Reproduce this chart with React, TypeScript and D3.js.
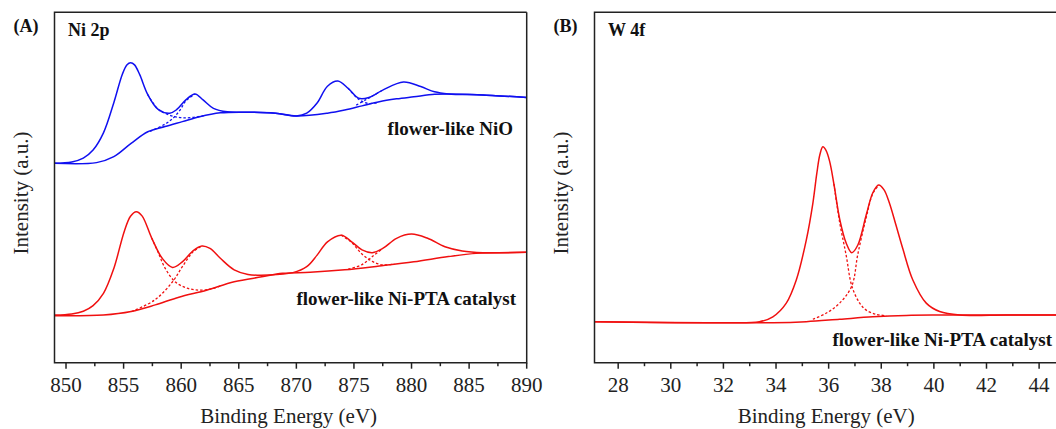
import { useEffect, useRef } from "react";
import * as d3 from "d3";

type Pt = [number, number];

// Panel A: Ni 2p, binding energy (eV) vs intensity (a.u.)
const niTicks = [850, 855, 860, 865, 870, 875, 880, 885, 890];
const niMinor = [852.5, 857.5, 862.5, 867.5, 872.5, 877.5, 882.5, 887.5];

const nioEnvelope: Pt[] = [
  [849, 56.9], [850.5, 57.3], [851.5, 58.4], [852.35, 60.7], [853.25, 65.6],
  [854.15, 74.2], [854.9, 82.4], [855.3, 85.0], [855.6, 85.6], [855.95, 85.0],
  [856.4, 82.2], [857.1, 76.5], [858.0, 72.3], [859.0, 71.2], [859.6, 72.2],
  [860.4, 75.0], [861.2, 76.7], [861.9, 75.0], [862.8, 72.6], [864.0, 71.6],
  [865.8, 71.5], [868.2, 71.2], [870.0, 70.4], [870.9, 71.2], [871.8, 74.1],
  [872.7, 78.9], [873.6, 80.4], [874.5, 78.3], [875.4, 75.5], [876.3, 75.7],
  [877.5, 77.8], [879.3, 80.1], [880.8, 78.8], [882.0, 77.3], [883.2, 76.7],
  [886.2, 76.4], [890, 75.7],
];
const nioBackground: Pt[] = [
  [849, 56.9], [852.65, 57.1], [854.15, 58.8], [855.65, 62.6], [857.1, 65.9],
  [858.6, 67.4], [860.1, 68.8], [861.6, 70.2], [863.4, 71.3], [865.2, 71.5],
  [868.2, 71.2], [870.0, 70.4], [872.7, 71.2], [874.2, 72.1], [875.7, 73.3],
  [877.2, 74.5], [878.7, 75.3], [880.2, 75.9], [882.0, 76.6], [883.2, 76.7],
  [886.2, 76.4], [890, 75.7],
];
const nioPeak1: Pt[] = [
  [857.1, 76.5], [858.0, 72.3], [858.6, 71.2], [859.3, 70.3], [860.1, 69.9],
  [861.0, 70.0], [862.0, 70.5],
];
const nioPeak2: Pt[] = [
  [857.3, 66.0], [858.6, 68.1], [859.3, 69.8], [859.9, 72.1], [860.4, 74.7],
  [861.2, 76.7],
];
const nioPeak3: Pt[] = [
  [874.5, 78.3], [875.4, 75.2], [876.2, 74.0], [877.0, 74.2],
];
const nioPeak4: Pt[] = [
  [875.2, 73.5], [876.0, 75.0], [876.6, 76.1], [877.5, 77.8],
];

const ptaEnvelope: Pt[] = [
  [849, 13.6], [850.5, 13.9], [851.5, 14.7], [852.35, 16.3], [853.25, 19.8],
  [854.15, 26.9], [855.05, 37.4], [855.6, 41.8], [856.1, 43.1], [856.6, 41.9],
  [857.45, 35.5], [858.35, 29.8], [859.25, 27.2], [860.1, 28.8], [861.05, 32.0],
  [861.8, 33.3], [862.5, 32.6], [863.4, 29.8], [864.6, 26.5], [865.8, 25.2],
  [867.6, 25.0], [869.7, 25.7], [870.9, 27.4], [871.8, 30.7], [872.7, 34.5],
  [873.9, 36.4], [874.8, 34.5], [875.7, 32.2], [876.6, 31.4], [877.5, 32.6],
  [878.7, 35.5], [880.0, 36.7], [881.4, 35.5], [882.9, 33.1], [884.4, 31.9],
  [886.2, 31.4], [890, 31.5],
];
const ptaBackground: Pt[] = [
  [849, 13.4], [853.25, 13.6], [855.65, 14.6], [857.75, 16.5], [859.8, 18.7],
  [862.2, 20.7], [864.6, 23.1], [867.0, 24.5], [868.8, 25.5], [871.2, 25.8],
  [874.2, 26.5], [877.2, 27.6], [880.2, 28.8], [883.2, 30.3], [885.6, 31.2],
  [890, 31.5],
];
const ptaPeak1: Pt[] = [
  [857.45, 35.5], [858.0, 31.5], [858.6, 27.0], [859.5, 23.0], [860.5, 21.3],
  [861.5, 20.7], [862.5, 21.0], [863.5, 22.0],
];
const ptaPeak2: Pt[] = [
  [855.7, 14.6], [857.7, 17.9], [859.25, 23.1], [860.1, 27.4], [861.05, 31.7],
  [861.8, 33.3],
];
const ptaPeak3: Pt[] = [
  [873.9, 36.4], [874.8, 34.3], [875.7, 31.0], [876.6, 28.9], [877.5, 27.9],
  [878.5, 28.2],
];
const ptaPeak4: Pt[] = [
  [874.5, 26.7], [875.7, 28.0], [876.6, 30.3], [877.5, 32.6],
];

// Panel B: W 4f
const wTicks = [28, 30, 32, 34, 36, 38, 40, 42, 44];
const wMinor = [29, 31, 33, 35, 37, 39, 41, 43];

const wEnvelope: Pt[] = [
  [27.1, 11.7], [31.98, 11.4], [33.37, 11.7], [33.88, 13.1], [34.39, 17.0],
  [34.77, 23.6], [35.15, 35.0], [35.4, 45.5], [35.55, 54.0], [35.67, 59.5],
  [35.78, 61.6], [35.9, 60.6], [36.04, 57.4], [36.2, 51.0], [36.42, 41.0],
  [36.67, 34.1], [36.88, 31.4], [37.11, 33.6], [37.43, 42.2], [37.68, 48.5],
  [37.9, 50.7], [38.1, 49.4], [38.3, 45.8], [38.55, 39.5], [38.82, 32.5],
  [39.2, 23.6], [39.71, 17.0], [40.22, 14.6], [40.98, 13.6], [42.75, 13.6],
  [44.9, 13.6],
];
const wBackground: Pt[] = [
  [27.1, 11.7], [33.88, 11.4], [35.15, 11.7], [36.42, 12.4], [37.68, 13.1],
  [38.95, 13.5], [40.2, 13.6], [44.9, 13.6],
];
const wPeak1: Pt[] = [
  [36.2, 51.0], [36.42, 40.0], [36.67, 30.5], [36.88, 21.9], [37.18, 17.0],
  [37.43, 15.0], [37.81, 13.8], [38.2, 13.4],
];
const wPeak2: Pt[] = [
  [35.4, 12.4], [35.9, 14.1], [36.42, 17.0], [36.88, 21.9], [37.11, 31.0],
  [37.43, 41.5], [37.68, 48.3], [37.9, 50.6],
];

const BLUE = "#1010f0";
const RED = "#f01010";
const FONT = "'Liberation Serif', 'Times New Roman', serif";

type PanelProps = {
  left: number;
  right: number;
  frameRight: number;
  domain: [number, number];
  ticks: number[];
  minor: number[];
  solids: Pt[][][];
  dashes: Pt[][][];
  colors: string[];
  letter: string;
  title: string;
  labels: { text: string; x: number; y: number }[];
  clipId: string;
};

const top = 12.3;
const bottom = 362.7;

function Panel(p: PanelProps) {
  const ref = useRef<SVGGElement>(null);

  useEffect(() => {
    const g = d3.select(ref.current);
    g.selectAll("*").remove();

    const x = d3.scaleLinear().domain(p.domain).range([p.left, p.right]);
    const y = d3.scaleLinear().domain([0, 100]).range([bottom, top]);

    const line = d3
      .line<Pt>()
      .x((d) => x(d[0]))
      .y((d) => y(d[1]))
      .curve(d3.curveCatmullRom.alpha(0.5));

    g.append("clipPath")
      .attr("id", p.clipId)
      .append("rect")
      .attr("x", p.left)
      .attr("y", top)
      .attr("width", p.frameRight - p.left)
      .attr("height", bottom - top);

    const plot = g.append("g").attr("clip-path", `url(#${p.clipId})`);

    // dashed fitted components first, envelopes on top
    p.dashes.forEach((group, i) => {
      group.forEach((d) => {
        plot
          .append("path")
          .datum(d)
          .attr("fill", "none")
          .attr("stroke", p.colors[i])
          .attr("stroke-width", 1.3)
          .attr("stroke-dasharray", "2.5,2")
          .attr("d", line);
      });
    });
    p.solids.forEach((group, i) => {
      group.forEach((d) => {
        plot
          .append("path")
          .datum(d)
          .attr("fill", "none")
          .attr("stroke", p.colors[i])
          .attr("stroke-width", 1.5)
          .attr("d", line);
      });
    });

    // frame
    g.append("path")
      .attr(
        "d",
        `M${p.frameRight},${top}H${p.left}V${bottom}H${p.frameRight}V${top}`
      )
      .attr("fill", "none")
      .attr("stroke", "#222")
      .attr("stroke-width", 1.5);

    // ticks
    p.ticks.forEach((t) => {
      g.append("line")
        .attr("x1", x(t))
        .attr("x2", x(t))
        .attr("y1", bottom)
        .attr("y2", bottom + 6)
        .attr("stroke", "#222")
        .attr("stroke-width", 1.5);
      g.append("text")
        .attr("x", x(t))
        .attr("y", 391.5)
        .attr("text-anchor", "middle")
        .attr("font-family", FONT)
        .attr("font-size", 21)
        .attr("fill", "#222")
        .text(t);
    });
    p.minor.forEach((t) => {
      g.append("line")
        .attr("x1", x(t))
        .attr("x2", x(t))
        .attr("y1", bottom)
        .attr("y2", bottom + 3.5)
        .attr("stroke", "#222")
        .attr("stroke-width", 1.5);
    });

    g.append("text")
      .attr("x", (p.left + p.frameRight) / 2 - 2)
      .attr("y", 423)
      .attr("text-anchor", "middle")
      .attr("font-family", FONT)
      .attr("font-size", 21)
      .attr("fill", "#222")
      .text("Binding Energy (eV)");

    g.append("text")
      .attr("transform", `translate(${p.left - 27},193) rotate(-90)`)
      .attr("text-anchor", "middle")
      .attr("font-family", FONT)
      .attr("font-size", 21)
      .attr("fill", "#222")
      .text("Intensity (a.u.)");

    g.append("text")
      .attr("x", p.left - 41)
      .attr("y", 32)
      .attr("font-family", FONT)
      .attr("font-weight", "bold")
      .attr("font-size", 18)
      .attr("fill", "#111")
      .text(p.letter);

    g.append("text")
      .attr("x", p.left + 13.5)
      .attr("y", 36)
      .attr("font-family", FONT)
      .attr("font-weight", "bold")
      .attr("font-size", 18)
      .attr("fill", "#111")
      .text(p.title);

    p.labels.forEach((l) => {
      g.append("text")
        .attr("x", l.x)
        .attr("y", l.y)
        .attr("text-anchor", "end")
        .attr("font-family", FONT)
        .attr("font-weight", "bold")
        .attr("font-size", 19)
        .attr("fill", "#111")
        .text(l.text);
    });
  }, [p]);

  return <g ref={ref}></g>;
}

export default function App() {
  return (
    <svg
      width={1056}
      height={429}
      style={{ position: "absolute", left: 0, top: 0, background: "#fff" }}
    >
      <Panel
        left={54.5}
        right={526.7}
        frameRight={526.7}
        domain={[849, 890]}
        ticks={niTicks}
        minor={niMinor}
        solids={[
          [nioBackground, nioEnvelope],
          [ptaBackground, ptaEnvelope],
        ]}
        dashes={[
          [nioPeak1, nioPeak2, nioPeak3, nioPeak4],
          [ptaPeak1, ptaPeak2, ptaPeak3, ptaPeak4],
        ]}
        colors={[BLUE, RED]}
        letter="(A)"
        title="Ni 2p"
        labels={[
          { text: "flower-like NiO", x: 513, y: 135 },
          { text: "flower-like Ni-PTA catalyst", x: 516, y: 305 },
        ]}
        clipId="clipA"
      />
      <Panel
        left={594.5}
        right={1062}
        frameRight={1062}
        domain={[27.1, 44.87]}
        ticks={wTicks}
        minor={wMinor}
        solids={[[wBackground, wEnvelope]]}
        dashes={[[wPeak1, wPeak2]]}
        colors={[RED]}
        letter="(B)"
        title="W 4f"
        labels={[{ text: "flower-like Ni-PTA catalyst", x: 1052, y: 346 }]}
        clipId="clipB"
      />
    </svg>
  );
}
